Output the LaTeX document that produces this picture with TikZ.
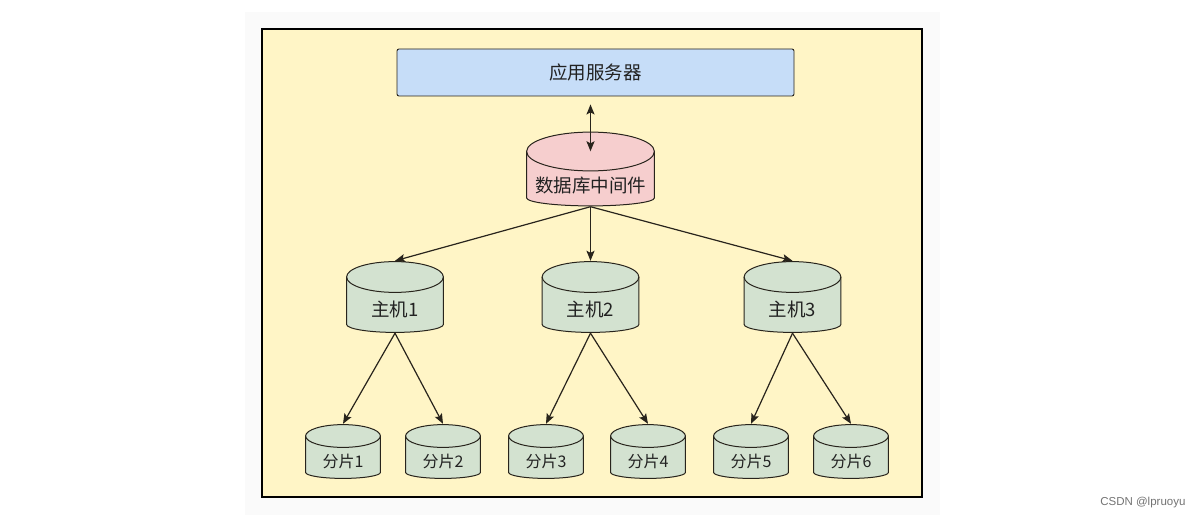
\documentclass[tikz,border=0pt]{standalone}
\usepackage{fontspec}
\usepackage{xcolor}
\usepackage{tikz}
\usetikzlibrary{arrows.meta, positioning, calc}
\newfontfamily\cjk{Noto Sans CJK SC}
\newfontfamily\marksans{Liberation Sans}
\definecolor{FrameYellow}{RGB}{255, 245, 198}
\definecolor{AppBlue}{RGB}{198, 221, 248}
\definecolor{MidPink}{RGB}{246, 206, 206}
\definecolor{HostGreen}{RGB}{211, 226, 208}
\definecolor{EdgeDark}{RGB}{40, 36, 28}
\definecolor{LabelDark}{RGB}{34, 34, 34}

\tikzset{
  % cylinder: width, height, top radius, bottom sag, fill
  dbcyl/.style n args={5}{
    minimum width=#1, minimum height=#2, inner ysep=0pt,
    text height={0.96em+2*#3}, text depth=0.2em,
    font=\cjk, text=LabelDark,
    path picture={
      \draw[fill=#5, draw=EdgeDark, line width=1pt]
        ([xshift=0.6pt, yshift=-#3]path picture bounding box.north west)
        -- ([xshift=0.6pt, yshift=#4+0.6pt]path picture bounding box.south west)
        arc[start angle=180, end angle=360, x radius=#1/2-0.6pt, y radius=#4]
        -- ([xshift=-0.6pt, yshift=-#3]path picture bounding box.north east)
        arc[start angle=0, end angle=180, x radius=#1/2-0.6pt, y radius=#3-0.6pt]
        -- cycle;
      \draw[draw=EdgeDark, line width=1pt]
        ([xshift=0.6pt, yshift=-#3]path picture bounding box.north west)
        arc[start angle=180, end angle=360, x radius=#1/2-0.6pt, y radius=#3-0.6pt];
    }
  },
  middb/.style={dbcyl={129pt}{75pt}{20pt}{8pt}{MidPink}, font=\cjk\fontsize{18.5}{20}\selectfont},
  hostdb/.style={dbcyl={98pt}{72pt}{16pt}{8pt}{HostGreen}, font=\cjk\fontsize{18.5}{20}\selectfont},
  sharddb/.style={dbcyl={76pt}{55pt}{12pt}{6pt}{HostGreen}, font=\cjk\fontsize{16}{18}\selectfont},
  link/.style={draw=EdgeDark, line width=1.2pt, -{Stealth[length=10pt, width=8pt, inset=2pt]}}
}

\begin{document}
\begin{tikzpicture}[x=1pt, y=-1pt]
  \useasboundingbox (0,0) rectangle (1203,519);
  \fill[white] (0,0) rectangle (1203,519);
  \fill[black!2] (245,12) rectangle (940,515);
  \draw[fill=FrameYellow, line width=1.1pt] (262,29) rectangle (922,497);

  \node[
    rounded corners=2pt, fill=AppBlue, draw=EdgeDark, line width=0.9pt,
    minimum width=397pt, minimum height=47pt, font=\cjk\fontsize{18.5}{20}\selectfont,
    text=LabelDark
  ] (app) at (595.5,72.5) {应用服务器};

  \node[middb] (mid) at (590.5,169) {数据库中间件};

  \node[hostdb] (host1) at (395,297) {主机1};
  \node[hostdb] (host2) at (590.5,297) {主机2};
  \node[hostdb] (host3) at (792.5,297) {主机3};

  \node[sharddb] (shard1) at (343,451.5) {分片1};
  \node[sharddb] (shard2) at (443,451.5) {分片2};
  \node[sharddb] (shard3) at (546,451.5) {分片3};
  \node[sharddb] (shard4) at (648,451.5) {分片4};
  \node[sharddb] (shard5) at (751,451.5) {分片5};
  \node[sharddb] (shard6) at (851,451.5) {分片6};

  \draw[link, {Stealth[length=10pt, width=8pt, inset=2pt]}-{Stealth[length=10pt, width=8pt, inset=2pt]}, shorten <=8pt]
    (mid.north |- app.south) -- ([yshift=-20pt]mid.north);
  \foreach \h in {1,2,3}
    \draw[link] (mid.south) -- (host\h.north);
  \draw[link] (host1.south) -- (shard1.north);
  \draw[link] (host1.south) -- (shard2.north);
  \draw[link] (host2.south) -- (shard3.north);
  \draw[link] (host2.south) -- (shard4.north);
  \draw[link] (host3.south) -- (shard5.north);
  \draw[link] (host3.south) -- (shard6.north);

  \node[font=\marksans\fontsize{11.5}{13}\selectfont, text=black!55, anchor=east] (mark) at (1189,503) {CSDN @lpruoyu};
\end{tikzpicture}
\end{document}
